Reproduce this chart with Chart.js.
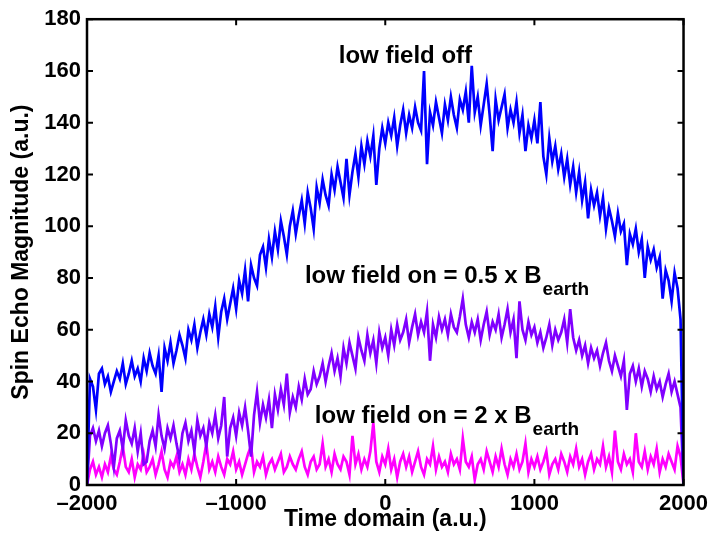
<!DOCTYPE html>
<html>
<head>
<meta charset="utf-8">
<script src="https://cdn.jsdelivr.net/npm/chart.js@4.4.1/dist/chart.umd.min.js"></script>
<style>
  html, body { margin: 0; padding: 0; background: #fff; }
  #wrap { width: 714px; height: 533px; }
</style>
</head>
<body>
<div id="wrap"><canvas id="mycanvas" width="714" height="533"></canvas></div>
<script>
// sample times run from -2000 to 2000 in steps of 20
var tStart = -2000;
var tStep = 20;

// low field off
var fieldOff = [
  0,
  41, 38, 29, 43, 45, 39, 42, 36, 40,
  44, 41, 47, 39, 43, 48, 42, 45, 40, 49,
  44, 51, 46, 43, 50, 36, 53, 48, 55, 47,
  52, 58, 54, 49, 60, 56, 62, 53, 59, 64,
  58, 66, 61, 69, 57, 67, 72, 64, 70, 76,
  68, 79, 74, 83, 71, 85, 80, 77, 89, 92,
  84, 95, 88, 98, 91, 102, 96, 89, 100, 106,
  97, 104, 110, 101, 113, 107, 99, 115, 109, 118,
  112, 108, 120, 114, 123, 117, 111, 126, 112, 121,
  128, 119, 131, 124, 133, 127, 135, 116, 130, 138,
  132, 140, 135, 142, 131, 139, 145, 136, 143, 138,
  146, 140, 137, 160, 124, 144, 139, 148, 142, 136,
  147, 141, 150, 143, 138, 149, 145, 152, 140, 162,
  144, 150, 139, 147, 155, 143, 129, 149, 141, 146,
  151, 138, 145, 140, 148, 136, 143, 129, 139, 134,
  141, 132, 148, 127, 120, 134, 125, 131, 122, 128,
  119, 126, 116, 123, 113, 121, 110, 117, 103, 114,
  108, 113, 104, 111, 99, 107, 102, 96, 105, 98,
  101, 85, 97, 93, 99, 90, 95, 80, 92, 87,
  91, 84, 88, 72, 83, 79, 71, 82, 76, 64,
  0
];

// low field on = 0.5 x B_earth
var fieldHalf = [
  0,
  19, 22, 17, 21, 15, 20, 23, 16, 7,
  18, 21, 14, 25, 19, 16, 22, 13, 20, 8,
  9, 17, 21, 15, 27, 19, 14, 22, 18, 23,
  16, 10, 20, 24, 17, 21, 13, 25, 19, 22,
  15, 24, 20, 27, 18, 23, 34, 11, 22, 26,
  19, 28, 23, 30, 21, 11, 27, 36, 24, 31,
  26, 33, 22, 35, 29, 37, 31, 43, 28, 34,
  30, 38, 33, 41, 35, 37, 44, 39, 42, 47,
  40, 46, 51, 44, 49, 42, 53, 47, 55, 50,
  45, 57, 52, 48, 58, 51, 56, 47, 59, 53,
  57, 50, 60, 54, 62, 56, 59, 64, 55, 61,
  66, 58, 63, 59, 67, 48, 62, 57, 65, 60,
  64, 58, 66, 61, 59, 65, 72, 62, 57, 63,
  59, 64, 56, 62, 67, 58, 63, 60, 66, 57,
  62, 68, 59, 64, 49, 71, 60, 56, 63, 58,
  61, 55, 59, 53, 57, 62, 54, 60, 56, 59,
  64, 55, 68, 57, 52, 56, 50, 54, 47, 53,
  49, 52, 46, 51, 55, 48, 44, 50, 46, 42,
  48, 29, 43, 46, 40, 45, 38, 44, 41, 36,
  42, 37, 40, 34, 39, 43, 36, 40, 35, 30,
  0
];

// low field on = 2 x B_earth
var fieldTwo = [
  0,
  6, 9, 4, 7, 3, 8, 5, 11, 6,
  4, 9, 15, 7, 5, 10, 3, 8, 6, 12,
  5, 7, 10, 4, 8, 13, 6, 3, 9, 7,
  11, 5, 8, 4, 10, 6, 12, 7, 3, 9,
  16, 6, 9, 5, 11, 7, 4, 10, 8, 13,
  6, 9, 4, 8, 12, 15, 5, 9, 7, 11,
  4, 8, 10, 6, 9, 12, 5, 7, 11, 8,
  6, 10, 13, 7, 4, 9, 11, 6, 8, 16,
  7, 10, 5, 12, 8, 6, 11, 9, 4, 19,
  8, 12, 6, 10, 7, 13, 24, 9, 5, 11,
  8, 14, 6, 10, 3, 9, 12, 7, 11, 5,
  9, 13, 7, 4, 10, 8, 15, 6, 11, 7,
  9, 5, 12, 8, 10, 6, 18, 9, 7, 11,
  2, 8, 10, 6, 13, 9, 5, 11, 7, 14,
  8, 4, 10, 7, 12, 6, 9, 16, 5, 10,
  7, 11, 6, 9, 13, 4, 8, 10, 6, 12,
  9, 5, 11, 8, 14, 7, 10, 4, 9, 12,
  6, 10, 8, 15, 7, 11, 5, 21, 9, 6,
  12, 8, 10, 5, 20, 9, 7, 13, 6, 11,
  8, 14, 5, 10, 7, 12, 9, 6, 15, 11,
  0
];

var seriesNames = ['low field off', 'low field on = 0.5 x Bearth', 'low field on = 2 x Bearth'];
var seriesColors = ['#0000ff', '#8000ff', '#ff00ff'];

var xTicks = [-2000, -1000, 0, 1000, 2000];
var yTicks = [0, 20, 40, 60, 80, 100, 120, 140, 160, 180];

// text written next to each curve (main part, subscript, anchor in data units)
var noteMain = ['low field off', 'low field on = 0.5 x B', 'low field on = 2 x B'];
var noteSub = ['', 'earth', 'earth'];
var noteX = [-312, -539, -472];
var noteY = [163, 78, 24];

function toPoints(vals) {
  var pts = [];
  for (var i = 0; i < vals.length; i++) {
    pts.push({ x: tStart + i * tStep, y: vals[i] });
  }
  return pts;
}

function dash(v) {
  return v < 0 ? '\u2013' + Math.abs(v) : String(v);
}

var frame = {
  id: 'frame',
  afterDatasetsDraw: function(chart) {
    var ctx = chart.ctx;
    var a = chart.chartArea;
    var xs = chart.scales.x;
    var ys = chart.scales.y;
    var tl = 6;
    ctx.save();
    ctx.strokeStyle = '#000';
    ctx.lineWidth = 2;
    ctx.beginPath();
    xTicks.forEach(function(v) {
      var px = xs.getPixelForValue(v);
      ctx.moveTo(px, a.bottom); ctx.lineTo(px, a.bottom - tl);
      ctx.moveTo(px, a.top); ctx.lineTo(px, a.top + tl);
    });
    yTicks.forEach(function(v) {
      var py = ys.getPixelForValue(v);
      ctx.moveTo(a.left, py); ctx.lineTo(a.left + tl, py);
      ctx.moveTo(a.right, py); ctx.lineTo(a.right - tl, py);
    });
    ctx.stroke();
    ctx.lineWidth = 2.5;
    ctx.strokeRect(a.left, a.top, a.right - a.left, a.bottom - a.top);

    ctx.fillStyle = '#000';
    ctx.textAlign = 'left';
    ctx.textBaseline = 'alphabetic';
    for (var i = 0; i < noteMain.length; i++) {
      var px = xs.getPixelForValue(noteX[i]);
      var py = ys.getPixelForValue(noteY[i]);
      ctx.font = 'bold 24px "Liberation Sans", Arial, sans-serif';
      ctx.fillText(noteMain[i], px, py);
      if (noteSub[i]) {
        var w = ctx.measureText(noteMain[i]).width;
        ctx.font = 'bold 19px "Liberation Sans", Arial, sans-serif';
        ctx.fillText(noteSub[i], px + w + 1, py + 12);
      }
    }
    ctx.restore();
  }
};

Chart.defaults.font.family = '"Liberation Sans", Arial, sans-serif';
Chart.defaults.font.weight = 'bold';
Chart.defaults.color = '#000';

var datasets = [fieldOff, fieldHalf, fieldTwo].map(function(vals, k) {
  return {
    label: seriesNames[k],
    data: toPoints(vals),
    borderColor: seriesColors[k],
    backgroundColor: seriesColors[k],
    borderWidth: 2.7,
    pointRadius: 0,
    tension: 0,
    fill: false
  };
});

var ctx = document.getElementById('mycanvas');
var chart = new Chart(ctx, {
  type: 'line',
  data: { datasets: datasets },
  options: {
    responsive: false,
    animation: false,
    devicePixelRatio: 1,
    layout: { padding: { top: 14, right: 30, bottom: 0, left: 0 } },
    plugins: {
      legend: { display: false },
      tooltip: { enabled: false }
    },
    scales: {
      x: {
        type: 'linear',
        min: -2000,
        max: 2000,
        grid: { display: false, drawTicks: false },
        border: { display: false },
        afterBuildTicks: function(scale) {
          scale.ticks = xTicks.map(function(v) { return { value: v }; });
        },
        afterFit: function(scale) { scale.height = 48; },
        ticks: {
          padding: 6,
          maxRotation: 0,
          autoSkip: false,
          font: { size: 22, weight: 'bold' },
          callback: function(v) { return dash(v); }
        },
        title: {
          display: true,
          text: 'Time domain (a.u.)',
          font: { size: 23, weight: 'bold' },
          padding: { top: 0, bottom: 0 }
        }
      },
      y: {
        min: 0,
        max: 180,
        grid: { display: false, drawTicks: false },
        border: { display: false },
        afterBuildTicks: function(scale) {
          scale.ticks = yTicks.map(function(v) { return { value: v }; });
        },
        afterFit: function(scale) { scale.width = 87; },
        ticks: {
          padding: 6,
          autoSkip: false,
          font: { size: 22, weight: 'bold' },
          callback: function(v) { return String(v); }
        },
        title: {
          display: true,
          text: 'Spin Echo Magnitude (a.u.)',
          font: { size: 23, weight: 'bold' },
          padding: { top: 8, bottom: 0 }
        }
      }
    }
  },
  plugins: [frame]
});
</script>
</body>
</html>
